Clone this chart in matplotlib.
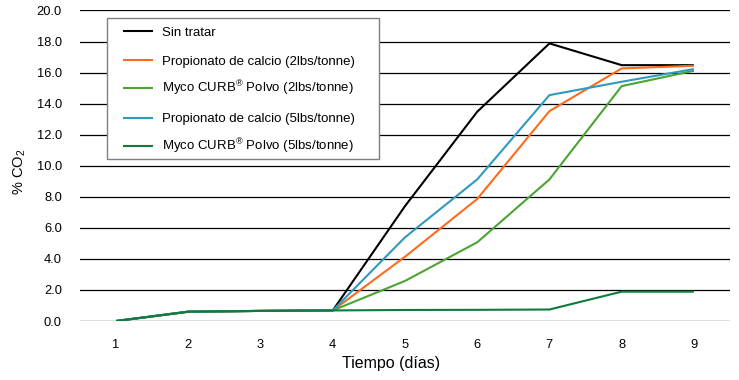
import matplotlib
matplotlib.use("Agg")
import matplotlib.pyplot as plt
from matplotlib.patches import Rectangle
from matplotlib.legend import Legend

plt.rcParams['font.family'] = ['Liberation Sans', 'DejaVu Sans']
plt.rcParams['mathtext.default'] = 'regular'

days = [1, 2, 3, 4, 5, 6, 7, 8, 9]
sin_tratar = [0.0, 0.6, 0.65, 0.68, 7.4, 13.48, 17.88, 16.48, 16.48]
prop_2 = [0.0, 0.6, 0.65, 0.68, 4.14, 7.86, 13.52, 16.27, 16.44]
myco_2 = [0.0, 0.6, 0.65, 0.68, 2.58, 5.07, 9.12, 15.13, 16.12]
prop_5 = [0.0, 0.6, 0.65, 0.68, 5.39, 9.12, 14.55, 15.41, 16.23]
myco_5 = [0.0, 0.6, 0.65, 0.68, 0.71, 0.72, 0.74, 1.89, 1.89]

labels = ["Sin tratar", "Propionato de calcio (2lbs/tonne)",
          "Myco CURB$^{®}$ Polvo (2lbs/tonne)", "Propionato de calcio (5lbs/tonne)",
          "Myco CURB$^{®}$ Polvo (5lbs/tonne)"]
series = [sin_tratar, prop_2, myco_2, prop_5, myco_5]
colors = ["#000000", "#FF6A1C", "#4BA432", "#3099C0", "#0E7A3C"]

y_ticks = [0, 2, 4, 6, 8, 10, 12, 14, 16, 18, 20]

fig = plt.figure(figsize=(7.39, 3.80), dpi=100)
ax = fig.add_axes([80/739, 1-321/380, 650/739, (321-10.5)/380])

lines = []
for s, c, l in zip(series, colors, labels):
    ln, = ax.plot(days, s, color=c, lw=1.5, label=l, solid_capstyle='butt')
    lines.append(ln)

ax.set_xlim(0.5, 9.5)
ax.set_ylim(0, 20)
ax.set_yticks(y_ticks)
ax.set_yticklabels([f"{v:.1f}" for v in y_ticks])
ax.set_xticks(days)
ax.tick_params(axis='both', length=0, labelsize=9.3, colors='#000000')
ax.tick_params(axis='y', pad=13)
ax.tick_params(axis='x', pad=13)
ax.grid(axis='y', color='#000000', lw=0.9)
ax.set_axisbelow(True)
for sp in ax.spines.values():
    sp.set_visible(False)

ax.set_xlabel("Tiempo (días)", fontsize=11.5)
ax.xaxis.set_label_coords((391-80)/650, (321-356)/310.5)
ax.set_ylabel("% CO$_2$", fontsize=10.5)
ax.yaxis.set_label_coords((28-80)/650, (321-172)/310.5)

# legend box
x0 = (107-80)/650
y0 = (321-159)/310.5
w = (379-107)/650
h = (159-18)/310.5
ax.add_patch(Rectangle((x0, y0), w, h, transform=ax.transAxes, fill=True,
                       facecolor='white', edgecolor='#7f7f7f', lw=1, zorder=5))

row_y = [31.5, 60.3, 89.0, 117.8, 146.7]
for ln, l, ry in zip(lines, labels, row_y):
    off = 1.6 if '$' in l else 0.0
    lg = Legend(ax, [ln], [l], loc='center left',
                bbox_to_anchor=((123-80)/650, (321-ry-1.5+off)/310.5),
                frameon=False, fontsize=9.5, handlelength=2.27, handletextpad=0.7,
                borderaxespad=0, borderpad=0)
    lg.set_zorder(6)
    ax.add_artist(lg)

fig.savefig("out.png", dpi=100)
